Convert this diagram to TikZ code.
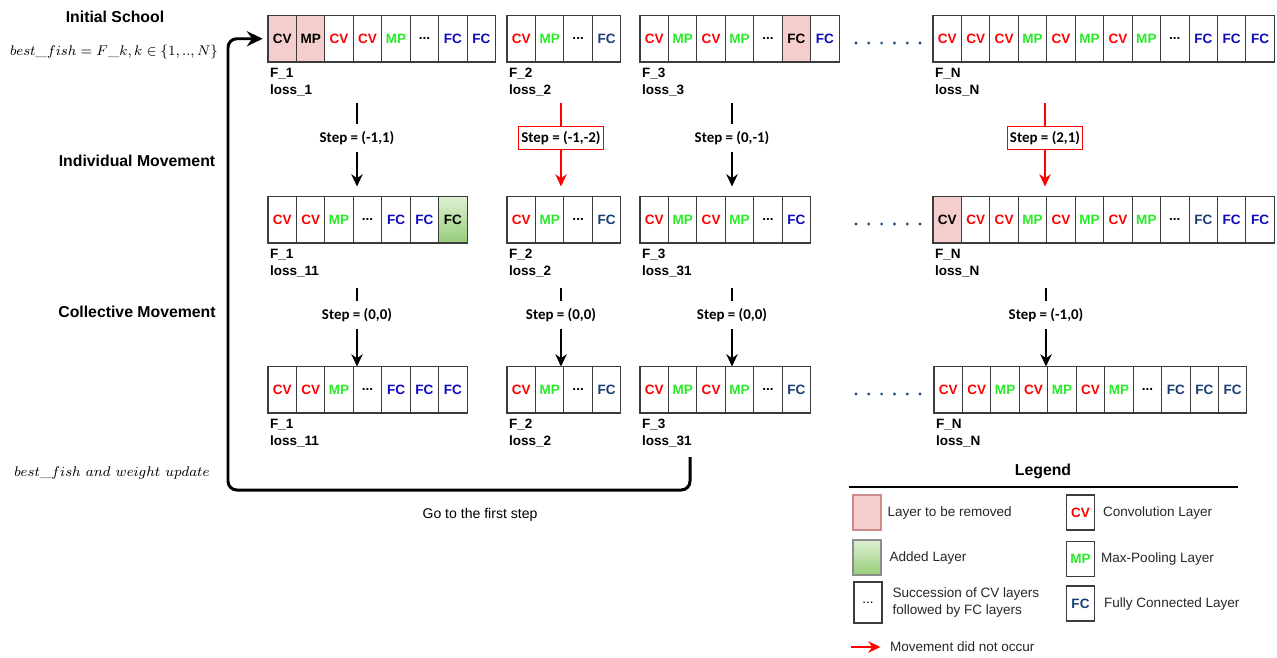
\documentclass[tikz,border=0pt]{standalone}
\usepackage{fontspec}
\setsansfont{Liberation Sans}
\newfontfamily\schrittfont{Carlito}
\usetikzlibrary{arrows.meta,positioning}

\definecolor{cv_rot}{RGB}{255,0,0}
\definecolor{mp_gruen}{RGB}{40,235,40}
\definecolor{fc_blau}{RGB}{15,10,190}
\definecolor{fc_navy}{RGB}{25,60,115}
\definecolor{rosa}{RGB}{245,205,205}
\definecolor{rosa_rand}{RGB}{205,140,140}
\definecolor{gruen_hell}{RGB}{222,240,212}
\definecolor{gruen_dunkel}{RGB}{150,205,120}
\definecolor{punkt_blau}{RGB}{31,78,121}
\definecolor{rand_grau}{RGB}{60,60,60}

\begin{document}
\begin{tikzpicture}[
      x=0.02cm, y=-0.02cm,
      zelle/.style={
        draw=rand_grau,
        line width=0.6pt,
        minimum width=0.569cm,
        minimum height=0.93cm,
        inner sep=0pt,
        outer sep=0pt,
        anchor=north west,
        font=\sffamily\bfseries\fontsize{7.7}{9}\selectfont
      },
      cv/.style={text=cv_rot, node contents=CV},
      mp/.style={text=mp_gruen, node contents=MP},
      etc/.style={node contents=...},
      fc/.style={text=fc_blau, node contents=FC},
      fcn/.style={text=fc_navy, node contents=FC},
      cvdel/.style={fill=rosa, node contents=CV},
      mpdel/.style={fill=rosa, node contents=MP},
      fcdel/.style={fill=rosa, node contents=FC},
      fcneu/.style={top color=gruen_hell, bottom color=gruen_dunkel, node contents=FC},
      fname/.style={
        anchor=north west,
        align=left,
        inner sep=1pt,
        font=\sffamily\bfseries\fontsize{7.7}{9.6}\selectfont
      },
      titel/.style={font=\sffamily\bfseries\fontsize{9}{11}\selectfont},
      formeltext/.style={font=\fontsize{8.5}{10}\selectfont},
      schritt/.style={font=\schrittfont\bfseries\fontsize{8.5}{10}\selectfont, inner sep=2pt, outer sep=2pt},
      schrittrot/.style={schritt, draw=red, line width=0.6pt, inner xsep=1.5pt, inner ysep=2.5pt, outer sep=0pt},
      linie/.style={line width=0.9pt},
      pfeil/.style={line width=0.9pt, -{Stealth[length=7pt, width=6.5pt]}},
      rueck/.style={line width=1.7pt, rounded corners=5pt, -{Stealth[length=9pt, width=8.5pt]}},
      legbox/.style={draw=rand_grau, line width=0.6pt, minimum width=0.56cm, minimum height=0.7cm, inner sep=0pt,
        font=\sffamily\bfseries\fontsize{7.7}{9}\selectfont},
      legtext/.style={anchor=west, align=left, inner sep=1pt, text=black!85,
        font=\sffamily\fontsize{7.7}{9.6}\selectfont}
    ]
      \useasboundingbox (0,0) rectangle (1277,657);

      % Linke Spalte
      \node[titel] (t-init) at (115,17) {Initial School};
      \node[formeltext] (formel) at (114,52) {$best\_fish = F\_k, k \in \{1,..,N\}$};
      \node[titel] (t-ind) at (137,161) {Individual Movement};
      \node[titel] (t-koll) at (137,312) {Collective Movement};
      \node[formeltext] (t-upd) at (112,473) {$best\_fish\ and\ weight\ update$};

      % Zeile a: Initial School
      \foreach \t [count=\i] in {cvdel,mpdel,cv,cv,mp,etc,fc,fc}
        \node (a1-\i) at ({268+(\i-1)*28.45},15.5) [zelle,\t];
      \node[fname] (a1-n) at ([yshift=-2.5pt]a1-1.south west) {F\_1\\loss\_1};
      \foreach \t [count=\i] in {cv,mp,etc,fcn}
        \node (a2-\i) at ({507+(\i-1)*28.45},15.5) [zelle,\t];
      \node[fname] (a2-n) at ([yshift=-2.5pt]a2-1.south west) {F\_2\\loss\_2};
      \foreach \t [count=\i] in {cv,mp,cv,mp,etc,fcdel,fc}
        \node (a3-\i) at ({640+(\i-1)*28.45},15.5) [zelle,\t];
      \node[fname] (a3-n) at ([yshift=-2.5pt]a3-1.south west) {F\_3\\loss\_3};
      \foreach \t [count=\i] in {cv,cv,cv,mp,cv,mp,cv,mp,etc,fc,fc,fc}
        \node (aN-\i) at ({933+(\i-1)*28.45},15.5) [zelle,\t];
      \node[fname] (aN-n) at ([yshift=-2.5pt]aN-1.south west) {F\_N\\loss\_N};

      % Zeile b: Individual Movement
      \foreach \t [count=\i] in {cv,cv,mp,etc,fc,fc,fcneu}
        \node (b1-\i) at ({268+(\i-1)*28.45},196.5) [zelle,\t];
      \node[fname] (b1-n) at ([yshift=-2.5pt]b1-1.south west) {F\_1\\loss\_11};
      \foreach \t [count=\i] in {cv,mp,etc,fcn}
        \node (b2-\i) at ({507+(\i-1)*28.45},196.5) [zelle,\t];
      \node[fname] (b2-n) at ([yshift=-2.5pt]b2-1.south west) {F\_2\\loss\_2};
      \foreach \t [count=\i] in {cv,mp,cv,mp,etc,fc}
        \node (b3-\i) at ({640+(\i-1)*28.45},196.5) [zelle,\t];
      \node[fname] (b3-n) at ([yshift=-2.5pt]b3-1.south west) {F\_3\\loss\_31};
      \foreach \t [count=\i] in {cvdel,cv,cv,mp,cv,mp,cv,mp,etc,fcn,fc,fc}
        \node (bN-\i) at ({933+(\i-1)*28.45},196.5) [zelle,\t];
      \node[fname] (bN-n) at ([yshift=-2.5pt]bN-1.south west) {F\_N\\loss\_N};

      % Zeile c: Collective Movement
      \foreach \t [count=\i] in {cv,cv,mp,etc,fc,fc,fc}
        \node (c1-\i) at ({268+(\i-1)*28.45},366.5) [zelle,\t];
      \node[fname] (c1-n) at ([yshift=-2.5pt]c1-1.south west) {F\_1\\loss\_11};
      \foreach \t [count=\i] in {cv,mp,etc,fcn}
        \node (c2-\i) at ({507+(\i-1)*28.45},366.5) [zelle,\t];
      \node[fname] (c2-n) at ([yshift=-2.5pt]c2-1.south west) {F\_2\\loss\_2};
      \foreach \t [count=\i] in {cv,mp,cv,mp,etc,fcn}
        \node (c3-\i) at ({640+(\i-1)*28.45},366.5) [zelle,\t];
      \node[fname] (c3-n) at ([yshift=-2.5pt]c3-1.south west) {F\_3\\loss\_31};
      \foreach \t [count=\i] in {cv,cv,mp,cv,mp,cv,mp,etc,fcn,fcn,fcn}
        \node (cN-\i) at ({934+(\i-1)*28.45},366.5) [zelle,\t];
      \node[fname] (cN-n) at ([yshift=-2.5pt]cN-1.south west) {F\_N\\loss\_N};

      % Punkte
      \foreach \py in {43,224,394}
        \foreach \k in {0,...,5}
          \fill[punkt_blau] ({856+\k*12.8},\py) circle (1.6);

      % Schritte a -> b
      \foreach \f/\px/\stil/\fb/\s in {1/357/schritt/black/{(-1,1)}, 2/561/schrittrot/red/{(-1,-2)},
                                         3/732/schritt/black/{(0,-1)}, N/1045/schrittrot/red/{(2,1)}}
      {
        \coordinate (i\f) at (\px,103);
        \node[\stil] (si\f) at (\px,138) {Step = \s};
        \draw[linie, color=\fb] (i\f) -- (si\f);
        \draw[pfeil, color=\fb, shorten >=0.2cm] (si\f) -- (si\f |- b\f-1.north);
      }

      % Schritte b -> c
      \foreach \f/\px/\s in {1/357/{(0,0)}, 2/561/{(0,0)}, 3/732/{(0,0)}, N/1046/{(-1,0)}}
      {
        \coordinate (k\f) at (\px,288);
        \node[schritt] (sk\f) at (\px,315) {Step = \s};
        \draw[linie] (k\f) -- (sk\f);
        \draw[pfeil] (sk\f) -- (sk\f |- c\f-1.north);
      }

      % Rueckfuehrung
      \coordinate (r0) at (690,457);
      \coordinate (r1) at (228,490);
      \draw[rueck, shorten >=3pt] (r0) |- (r1) |- (a1-1.west);
      \node[font=\sffamily\fontsize{8}{10}\selectfont] (t-go) at (480,515) {Go to the first step};

      % Legende
      \node[titel] (leg) at (1043,471) {Legend};
      \coordinate (l0) at (849,487);
      \coordinate (l1) at (1238,487);
      \draw[line width=1.3pt] (l0) -- (l1);

      \node[legbox, fill=rosa, draw=rosa_rand] (lg1) at (867,512.5) {};
      \node[legtext, right=0.08cm of lg1] (lt1) {Layer to be removed};
      \node[legbox, top color=gruen_hell, bottom color=gruen_dunkel, draw=black!45] (lg2) at (867,557.5) {};
      \node[legtext, right=0.12cm of lg2] (lt2) {Added Layer};
      \node[legbox, minimum height=0.82cm, font=\sffamily\fontsize{7.7}{9}\selectfont] (lg3) at (868,602.5) {...};
      \node[legtext, right=0.16cm of lg3] (lt3) {Succession of CV layers\\followed by FC layers};

      \node[legbox, text=cv_rot] (lg4) at (1080.5,512.5) {CV};
      \node[legtext, right=0.12cm of lg4] (lt4) {Convolution Layer};
      \node[legbox, text=mp_gruen] (lg5) at (1080.5,559) {MP};
      \node[legtext, right=0.08cm of lg5] (lt5) {Max-Pooling Layer};
      \node[legbox, text=fc_navy] (lg6) at (1080.5,603.5) {FC};
      \node[legtext, right=0.14cm of lg6] (lt6) {Fully Connected Layer};

      \coordinate (lp0) at (851,647);
      \node[legtext] (lt7) at (888,647) {Movement did not occur};
      \draw[pfeil, red, shorten >=0.15cm] (lp0) -- (lt7.west);
    \end{tikzpicture}
\end{document}
